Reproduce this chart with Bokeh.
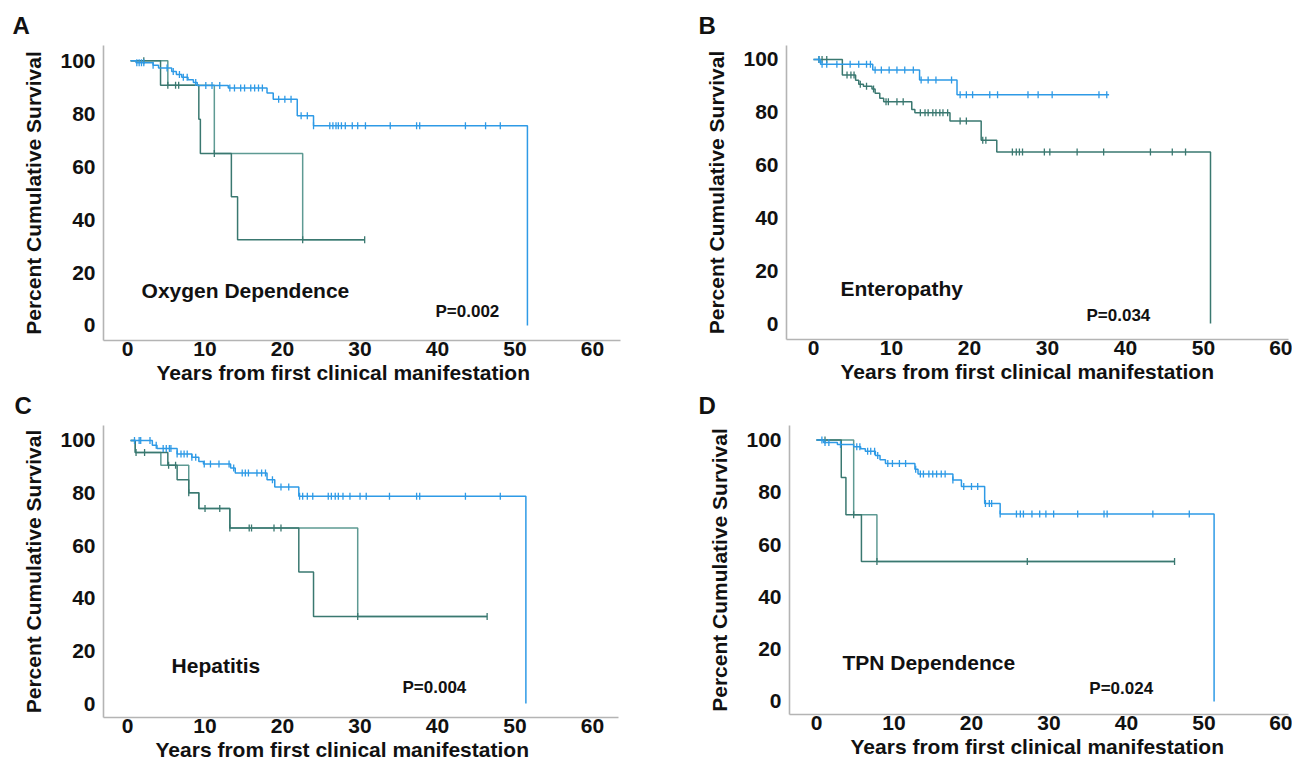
import numpy as np
from bokeh.plotting import figure
from bokeh.models import Label, Range1d, FixedTicker, Title
from bokeh.layouts import column, row
from bokeh.embed import file_html
from bokeh.resources import INLINE

# ---------------- data ----------------
x_ticks = [0, 10, 20, 30, 40, 50, 60]
y_ticks = [0, 20, 40, 60, 80, 100]

# Panel A - Oxygen Dependence
A_blue_t = [0.4, 1.1, 3.3, 4.0, 5.7, 6.3, 7.0, 7.8, 8.5, 9.0, 13.0, 18.0, 18.8, 21.9, 24.0, 51.6]
A_blue_s = [100, 99.3, 98.3, 97.3, 96.0, 94.8, 93.8, 92.8, 91.8, 90.7, 89.7, 87.8, 85.5, 79.2, 75.5, 0]
A_blue_cens = [1.2, 1.5, 1.8, 2.1, 3.3, 5.1, 5.9, 6.7, 7.2, 7.7, 8.8, 10.1, 10.9, 11.9, 13.2, 13.8,
               14.6, 15.1, 15.9, 16.4, 16.9, 17.4, 19.5, 20.3, 21.1, 22.4, 23.2, 24.0, 26.1, 26.5,
               26.9, 27.2, 27.6, 28.1, 29.0, 29.7, 30.7, 33.9, 37.3, 37.7, 43.6, 46.2, 48.1]
A_teal1_t = [0.4, 4.26, 9.2, 9.4, 13.4, 14.2, 30.6]
A_teal1_s = [100, 90.8, 77.9, 65.0, 48.6, 32.4, 32.4]
A_teal2_t = [0.4, 5.2, 11.2, 22.6, 30.6]
A_teal2_s = [100, 90.8, 65.0, 32.4, 32.4]
A_teal_cens = [2.1, 5.2, 6.2, 6.6, 11.2, 22.6, 30.6]

# Panel B - Enteropathy
B_blue_t = [0, 0.9, 7.6, 13.6, 18.4, 37.9]
B_blue_s = [100, 98.2, 96.0, 92.2, 86.6, 86.6]
B_blue_cens = [0.7, 1.1, 1.7, 3.0, 4.7, 5.8, 6.8, 7.3, 7.9, 8.7, 9.7, 10.7, 11.7, 12.8, 13.8, 14.7,
               15.7, 17.7, 18.8, 19.6, 20.4, 22.6, 23.6, 27.5, 28.8, 30.6, 36.6, 37.6]
B_teal1_t = [0, 3.7, 5.4, 5.8, 6.4, 7.5, 7.9, 8.5, 9.0, 12.6, 13.0, 17.5, 21.5, 23.5, 50.9]
B_teal1_s = [100, 94.1, 92.1, 90.6, 89.9, 88.8, 87.2, 85.3, 84.0, 81.1, 79.8, 76.7, 69.4, 65.0, 0]
B_teal_cens = [0.7, 1.1, 1.7, 4.3, 4.8, 5.2, 6.0, 6.8, 7.7, 9.3, 9.6, 10.7, 11.5, 13.7, 14.3, 14.7,
               15.3, 15.7, 16.2, 16.6, 17.2, 18.8, 19.6, 21.7, 22.1, 25.5, 26.0, 26.4, 26.8, 29.6,
               30.3, 33.8, 37.2, 43.2, 46.0, 47.7]

# Panel C - Hepatitis
C_blue_t = [0.4, 3.2, 3.8, 6.4, 8.3, 9.2, 9.8, 13.3, 13.9, 18.0, 19.0, 22.1, 51.4]
C_blue_s = [100, 98.2, 97.0, 94.9, 93.6, 92.0, 91.1, 89.5, 87.6, 85.1, 82.3, 78.8, 0]
C_blue_cens = [0.9, 1.5, 1.7, 2.9, 3.7, 4.6, 5.0, 5.4, 5.6, 6.4, 6.9, 7.3, 7.7, 8.3, 8.8, 9.9, 10.7,
               11.8, 13.1, 13.7, 14.8, 15.2, 15.6, 16.7, 17.3, 17.8, 18.7, 19.8, 20.8, 22.2, 22.6,
               23.2, 23.9, 25.9, 26.3, 26.8, 27.2, 27.8, 28.7, 30.0, 30.8, 33.8, 37.3, 37.7, 43.6, 48.1]
C_teal1_t = [0.4, 1.0, 5.2, 6.4, 7.9, 9.2, 13.2, 22.1, 24.0, 46.4]
C_teal1_s = [100, 95.4, 90.6, 85.1, 80.1, 74.1, 66.7, 50.0, 33.1, 33.1]
C_teal2_t = [0.4, 1.0, 4.3, 7.9, 9.2, 13.2, 29.7, 46.4]
C_teal2_s = [100, 95.4, 90.6, 80.1, 74.1, 66.7, 33.1, 33.1]
C_teal_cens = [1.1, 2.2, 5.3, 6.2, 7.9, 10.0, 11.9, 13.2, 15.7, 16.0, 18.9, 19.8, 29.7, 46.4]

# Panel D - TPN Dependence
D_blue_t = [0, 0.9, 2.7, 4.8, 5.7, 6.3, 7.6, 8.2, 8.9, 12.7, 13.1, 17.6, 18.7, 21.7, 23.7, 51.3]
D_blue_s = [100, 99.0, 98.2, 97.4, 96.6, 95.7, 94.0, 92.4, 91.0, 88.8, 87.0, 84.7, 82.2, 75.7, 71.7, 0]
D_blue_cens = [0.7, 1.1, 1.6, 3.1, 5.2, 5.6, 6.6, 7.0, 7.5, 7.9, 9.2, 9.8, 10.7, 11.5, 12.8, 13.4,
               13.8, 14.5, 15.0, 15.5, 16.1, 16.6, 17.6, 19.0, 20.0, 20.8, 21.8, 22.3, 22.6, 23.7,
               25.8, 26.3, 26.7, 27.8, 28.8, 29.6, 30.6, 33.7, 37.1, 37.5, 43.4, 48.1]
D_teal1_t = [0, 3.2, 3.8, 5.8, 46.2]
D_teal1_s = [100, 85.6, 71.4, 53.5, 53.5]
D_teal2_t = [0, 4.8, 7.8, 46.2]
D_teal2_s = [100, 71.4, 53.5, 53.5]
D_teal_cens = [1.1, 4.8, 7.8, 27.2, 46.2]

x_title = "Years from first clinical manifestation"
y_title = "Percent Cumulative Survival"

# ---------------- styling ----------------
FONT = "Liberation Sans"
BLUE = "#2e9ae6"
TEAL = "#3a7870"
TEAL2 = "#5e9a93"
AXIS = "#b4b4b4"


def surv_at(t, s, c):
    t = np.asarray(t, float)
    s = np.asarray(s, float)
    idx = np.searchsorted(t, np.asarray(c, float), side="right") - 1
    idx = np.clip(idx, 0, len(s) - 1)
    return s[idx]


def panel(cfg):
    p = figure(frame_width=cfg["fw"], frame_height=cfg["fh"],
               min_border_left=cfg["bl"], min_border_right=cfg["br"],
               min_border_top=cfg["bt"], min_border_bottom=cfg["bb"],
               x_range=Range1d(*cfg["xr"]), y_range=Range1d(*cfg["yr"]),
               output_backend="svg", toolbar_location=None)
    p.grid.visible = False
    p.outline_line_color = None
    p.background_fill_color = "white"
    p.border_fill_color = "white"

    # panel letter as the plot title, pushed left of the frame
    p.title.text = cfg["letter"]
    p.title.align = "left"
    p.title.offset = cfg["letter_off"]
    p.title.standoff = 9
    p.title.vertical_align = "top"
    p.title.text_font = FONT
    p.title.text_font_style = "bold"
    p.title.text_font_size = "24px"
    p.title.text_color = "#111111"

    p.xaxis.ticker = FixedTicker(ticks=x_ticks)
    p.yaxis.ticker = FixedTicker(ticks=y_ticks)
    for ax in (p.xaxis[0], p.yaxis[0]):
        ax.axis_line_color = AXIS
        ax.axis_line_width = 1.6
        ax.major_tick_line_color = None
        ax.minor_tick_line_color = None
        ax.major_tick_out = 0
        ax.major_tick_in = 0
        ax.major_label_text_font = FONT
        ax.major_label_text_font_style = "bold"
        ax.major_label_text_font_size = "21px"
        ax.major_label_text_color = "#111111"
    p.xaxis.major_label_standoff = 1
    p.yaxis.major_label_standoff = 8
    p.yaxis.axis_label = y_title
    p.yaxis.axis_label_text_font = FONT
    p.yaxis.axis_label_text_font_style = "bold"
    p.yaxis.axis_label_text_font_size = "21px"
    p.yaxis.axis_label_text_color = "#111111"
    p.yaxis.axis_label_standoff = 12

    # x-axis title, placed left-aligned with an offset below the axis
    p.add_layout(Title(text=x_title, align="left", offset=cfg["xt_off"], standoff=0,
                       text_font=FONT, text_font_style="bold", text_font_size="21px",
                       text_color="#111111"), "below")

    if cfg.get("teal2") is not None:
        t2, s2 = cfg["teal2"]
        p.step(t2, s2, mode="after", line_color=TEAL2, line_width=1.5)
    t1, s1 = cfg["teal1"]
    p.step(t1, s1, mode="after", line_color=TEAL, line_width=1.5)
    tc = cfg["teal_cens"]
    p.scatter(tc, surv_at(t1, s1, tc), marker="dash", angle=np.pi / 2, size=7,
              line_color=TEAL, line_width=1.3)

    bt, bs = cfg["blue"]
    p.step(bt, bs, mode="after", line_color=BLUE, line_width=1.5)
    bc = cfg["blue_cens"]
    p.scatter(bc, surv_at(bt, bs, bc), marker="dash", angle=np.pi / 2, size=7,
              line_color=BLUE, line_width=1.3)

    def lab(x, y, text, size):
        p.add_layout(Label(x=x, y=y, text=text, text_font=FONT, text_font_style="bold",
                           text_font_size=size, text_align="left", text_baseline="middle",
                           text_color="#111111"))

    lab(*cfg["name_pos"], cfg["name"], "21px")
    lab(*cfg["p_pos"], cfg["pval"], "17px")
    return p


pA = panel(dict(fw=517, fh=295, bl=103, br=75, bt=43, bb=44,
                xr=(-3.10, 63.61), yr=(-5.67, 105.78),
                blue=(A_blue_t, A_blue_s), blue_cens=A_blue_cens,
                teal1=(A_teal1_t, A_teal1_s), teal2=(A_teal2_t, A_teal2_s), teal_cens=A_teal_cens,
                letter="A", letter_off=-91, xt_off=53,
                name="Oxygen Dependence", name_pos=(1.81, 13.2),
                pval="P=0.002", p_pos=(39.74, 5.29)))

pB = panel(dict(fw=502, fh=294, bl=91, br=4, bt=45, bb=43,
                xr=(-3.46, 60.9), yr=(-6.06, 105.3),
                blue=(B_blue_t, B_blue_s), blue_cens=B_blue_cens,
                teal1=(B_teal1_t, B_teal1_s), teal2=None, teal_cens=B_teal_cens,
                letter="B", letter_off=-88, xt_off=54,
                name="Enteropathy", name_pos=(3.46, 13.26),
                pval="P=0.034", p_pos=(35.0, 3.03)))

pC = panel(dict(fw=515, fh=292, bl=103, br=77, bt=40, bb=46,
                xr=(-3.10, 63.35), yr=(-5.32, 105.7),
                blue=(C_blue_t, C_blue_s), blue_cens=C_blue_cens,
                teal1=(C_teal1_t, C_teal1_s), teal2=(C_teal2_t, C_teal2_s), teal_cens=C_teal_cens,
                letter="C", letter_off=-89, xt_off=52,
                name="Hepatitis", name_pos=(5.68, 14.45),
                pval="P=0.004", p_pos=(35.48, 6.08)))

pD = panel(dict(fw=499, fh=289, bl=94, br=4, bt=43, bb=46,
                xr=(-3.48, 60.9), yr=(-4.97, 105.5),
                blue=(D_blue_t, D_blue_s), blue_cens=D_blue_cens,
                teal1=(D_teal1_t, D_teal1_s), teal2=(D_teal2_t, D_teal2_s), teal_cens=D_teal_cens,
                letter="D", letter_off=-91, xt_off=61,
                name="TPN Dependence", name_pos=(3.35, 14.9),
                pval="P=0.024", p_pos=(35.2, 4.97)))

layout = column(row(pA, pB), row(pC, pD))
open("out.html", "w").write(file_html(layout, INLINE))
